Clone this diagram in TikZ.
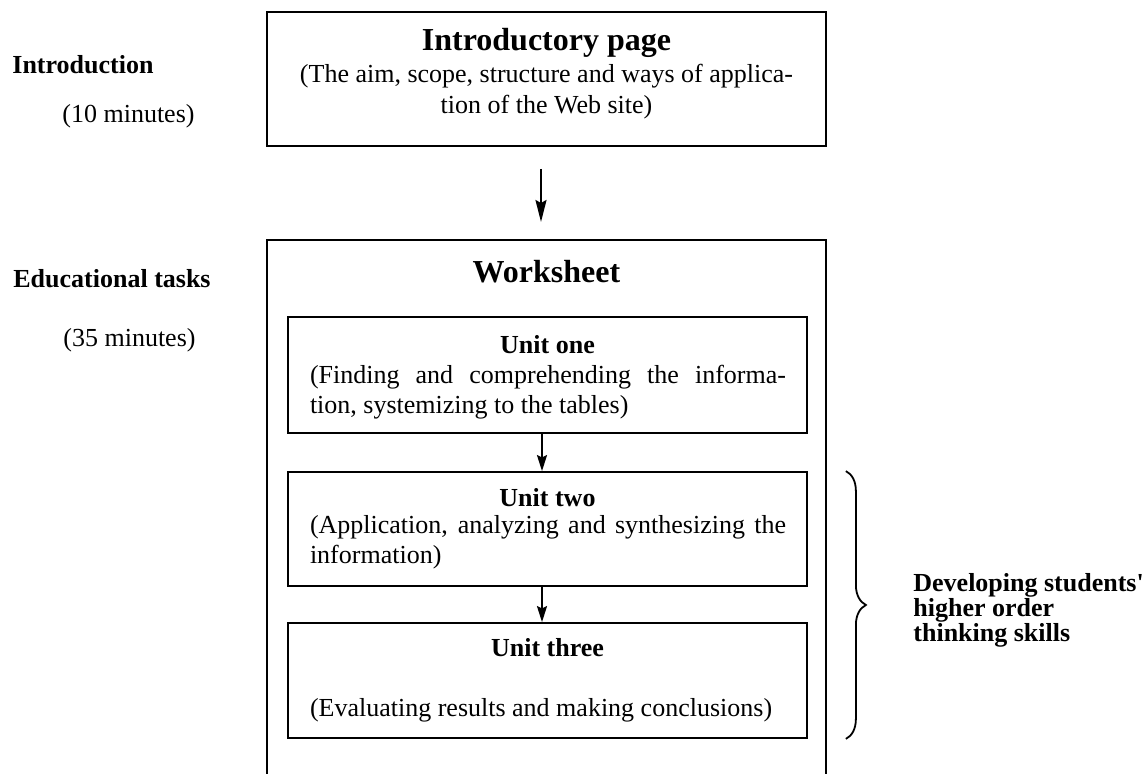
\documentclass[tikz,border=0pt]{standalone}
\usepackage{fontspec}
\setmainfont{Liberation Serif}
\usetikzlibrary{arrows.meta,decorations.pathreplacing}
\begin{document}
\begin{tikzpicture}[x=0.5pt,y=-0.5pt,
  box/.style={draw,line width=0.9pt,inner sep=0pt},
  lbl/.style={font=\fontsize{13}{15}\selectfont\bfseries,anchor=west,inner sep=0pt},
  dur/.style={font=\fontsize{13}{15}\selectfont,anchor=west,inner sep=0pt},
  ttl/.style={font=\fontsize{16}{19}\selectfont\bfseries,inner sep=0pt},
  utl/.style={font=\fontsize{13}{15}\selectfont\bfseries,inner sep=0pt},
  body/.style={font=\fontsize{13}{15}\selectfont,inner sep=0pt,text width=238pt,align=justify},
  cbody/.style={font=\fontsize{13}{15.5}\selectfont,inner sep=0pt,align=center},
  bigflow/.style={line width=1pt,-{Stealth[length=11pt,width=5.5pt,inset=1.5pt]}},
  flow/.style={line width=1pt,-{Stealth[length=8pt,width=5pt,inset=1.2pt]}},
]
\useasboundingbox (0,0) rectangle (1147,774);

% left labels
\node[lbl] (lintro) at (12,65) {Introduction};
\node[dur] (dintro) at (62,116) {(10 minutes)};
\node[lbl] (ledu) at (13,279) {Educational tasks};
\node[dur] (dedu) at (63,340) {(35 minutes)};

% introductory page
\node[box,minimum width=279.5pt,minimum height=67pt] (intro) at (546.5,79) {};
\node[ttl] (introT) at (546.5,43) {Introductory page};
\node[cbody] (introB) at (546.5,92) {(The aim, scope, structure and ways of applica-\\tion of the Web site)};

% worksheet frame (open at the bottom)
\coordinate (wsTL) at (267,240);
\coordinate (wsTR) at (826,240);
\coordinate (wsBL) at (267,774);
\coordinate (wsBR) at (826,774);
\draw[line width=0.9pt] (wsBL) -- (wsTL) -- (wsTR) -- (wsBR);
\node[ttl] (wsT) at (546.5,272) {Worksheet};

% units
\node[box,minimum width=259.5pt,minimum height=58pt] (u1) at (547.5,375) {};
\node[utl] (u1T) at (547.5,345) {Unit one};
\node[body] (u1B) at (548,392.5) {(Finding and comprehending the informa-\linebreak tion, systemizing to the tables)};

\node[box,minimum width=259.5pt,minimum height=57pt] (u2) at (547.5,529) {};
\node[utl] (u2T) at (547.5,498) {Unit two};
\node[body] (u2B) at (548,542.5) {(Application, analyzing and synthesizing the\linebreak information)};

\node[box,minimum width=259.5pt,minimum height=57.5pt] (u3) at (547.5,680.5) {};
\node[utl] (u3T) at (547.5,648) {Unit three};
\node[body] (u3B) at (548,710) {(Evaluating results and making conclusions)};

% arrows
\coordinate (a0) at ([xshift=-2.75pt]intro.south);
\draw[bigflow,shorten <=11pt,shorten >=9pt] (a0) -- (a0 |- wsTL);
\draw[flow] ([xshift=-2.75pt]u1.south) -- ([xshift=-2.75pt]u2.north);
\draw[flow] ([xshift=-2.75pt]u2.south) -- ([xshift=-2.75pt]u3.north);

% brace and label
\draw[line width=0.9pt,decorate,decoration={brace,amplitude=10pt}]
  ([xshift=19pt]u2.north east) -- ([xshift=19pt]u3.south east);
\node[font=\fontsize{13}{12.5}\selectfont\bfseries,align=left,anchor=west,inner sep=0pt] (dev) at (913,610)
  {Developing students\textquotesingle\\higher order\\thinking skills};
\end{tikzpicture}
\end{document}
